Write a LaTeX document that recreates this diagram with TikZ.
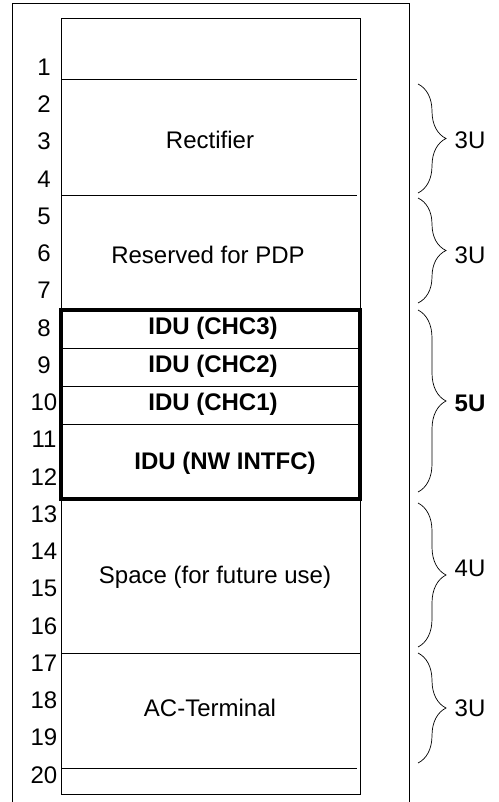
\documentclass[tikz,border=0pt]{standalone}
\usepackage{fontspec}
\setmainfont{Liberation Sans}
\usetikzlibrary{decorations.pathreplacing}

\tikzset{
  unitnum/.style={font=\fontsize{24}{28}\selectfont, inner sep=0pt},
  slotlabel/.style={font=\fontsize{24}{28}\selectfont, inner sep=0pt},
  idulabel/.style={inner sep=0pt, font=\fontsize{24}{28}\selectfont\bfseries},
  sizelabel/.style={font=\fontsize{24}{28}\selectfont, inner sep=0pt},
  slotline/.style={line width=1pt},
  ubrace/.style={decorate, decoration={brace, amplitude=28pt}, line width=0.7pt},
}

\begin{document}
\begin{tikzpicture}[x=1pt, y=-1pt]
    \useasboundingbox (0,0) rectangle (498,802);

    % cabinet frame (open at the bottom) and rack
    \draw[line width=1pt] (12,802) -- (12,4) -- (409,4) -- (409,802);
    \draw[line width=1pt] (61,19) rectangle (360,794);

    % rack unit numbers, 37.26 apart
    \foreach \n in {1,...,20}
      \node[unitnum] (u\n) at (44, {67+(\n-1)*37.26}) {\n};

    % slot separators
    \coordinate (s1l) at (61,80);   \coordinate (s1r) at (357,80);
    \coordinate (s2l) at (61,196);  \coordinate (s2r) at (357,196);
    \coordinate (s3l) at (61,348);  \coordinate (s3r) at (360,348);
    \coordinate (s4l) at (61,386);  \coordinate (s4r) at (360,386);
    \coordinate (s5l) at (61,424);  \coordinate (s5r) at (360,424);
    \coordinate (s6l) at (61,653);  \coordinate (s6r) at (360,653);
    \coordinate (s7l) at (61,768);  \coordinate (s7r) at (357,768);
    \foreach \s in {1,...,7}
      \draw[slotline] (s\s l) -- (s\s r);

    % IDU block
    \draw[line width=3.5pt] (61,310) rectangle (360,499);

    % equipment in the slots
    \node[slotlabel] (rect)  at (210,140) {Rectifier};
    \node[slotlabel] (pdp)   at (208,255) {Reserved for PDP};
    \node[idulabel]  (chc3)  at (213,328) {IDU (CHC3)};
    \node[idulabel]  (chc2)  at (213,366) {IDU (CHC2)};
    \node[idulabel]  (chc1)  at (213,404) {IDU (CHC1)};
    \node[idulabel]  (nwif)  at (225,463) {IDU (NW INTFC)};
    \node[slotlabel] (space) at (215,577) {Space (for future use)};
    \node[slotlabel] (acterm) at (210,708) {AC-Terminal};

    % heights on the right
    \draw[ubrace] (418,84)  -- (418,193);
    \draw[ubrace] (418,198) -- (418,303);
    \draw[ubrace] (418,310) -- (418,492);
    \draw[ubrace] (418,503) -- (418,647);
    \draw[ubrace] (418,653) -- (418,763);
    \node[sizelabel] (h1) at (470,140) {3U};
    \node[sizelabel] (h2) at (470,255) {3U};
    \node[sizelabel, font=\fontsize{24}{28}\selectfont\bfseries] (h3) at (470,403) {5U};
    \node[sizelabel] (h4) at (470,568) {4U};
    \node[sizelabel] (h5) at (470,708) {3U};
\end{tikzpicture}
\end{document}
